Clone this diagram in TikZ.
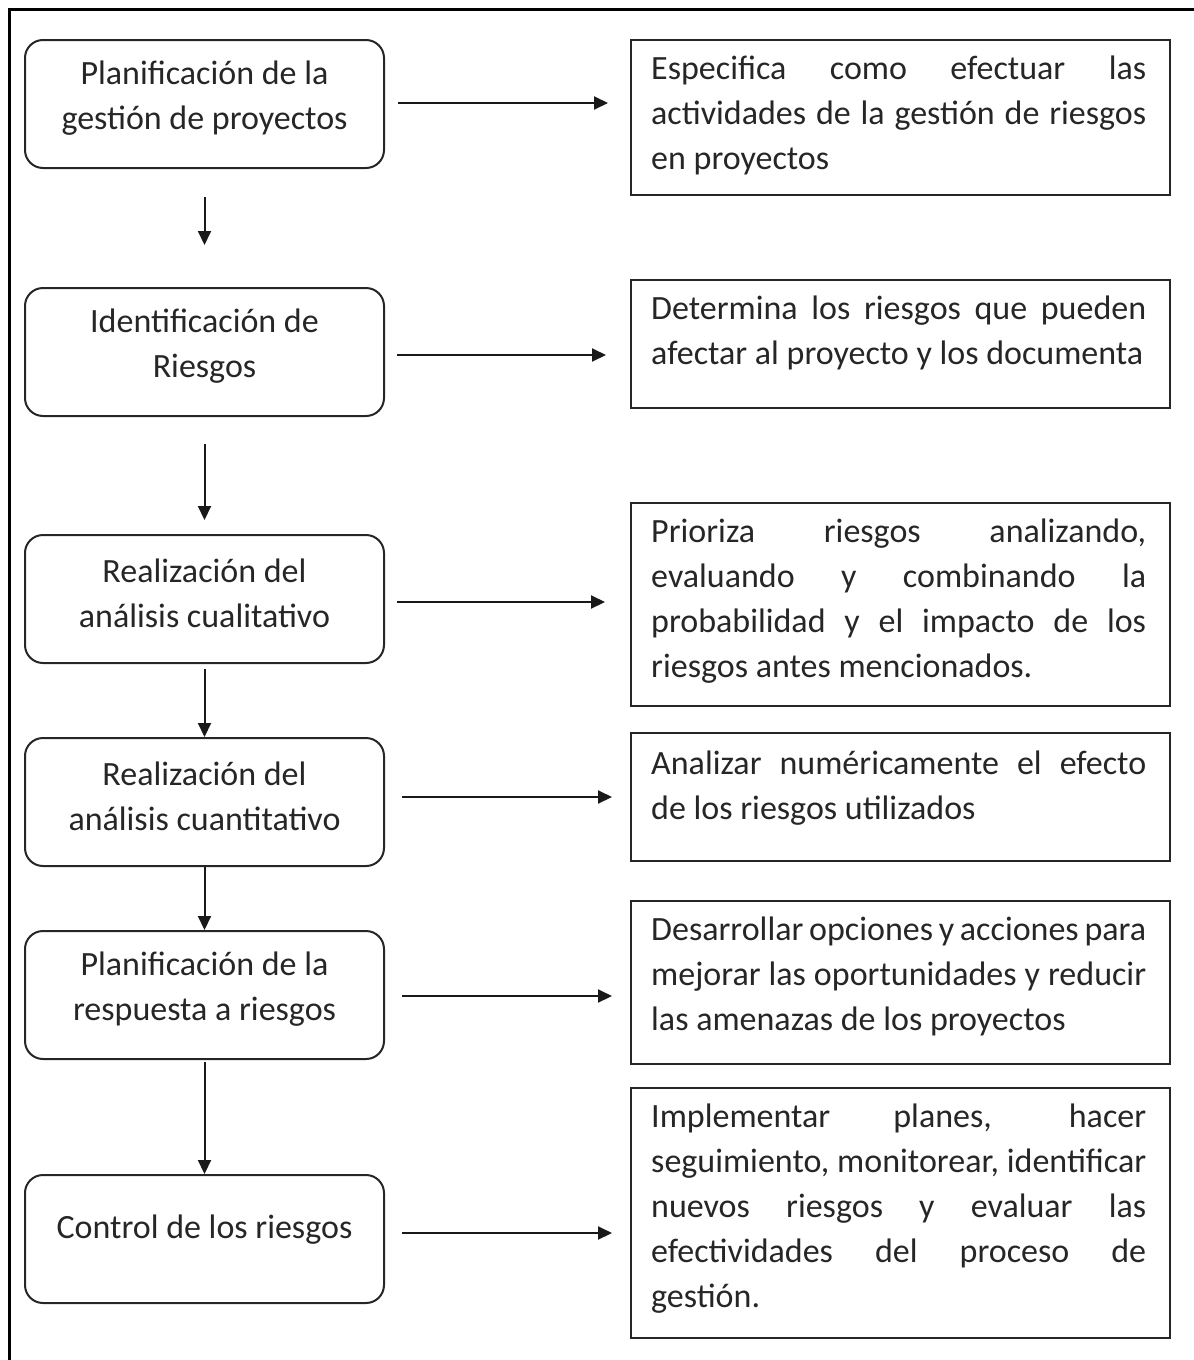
\documentclass[tikz,border=0pt]{standalone}
\usepackage{fontspec}
\setmainfont{Carlito}
\usetikzlibrary{arrows.meta}
\newcommand{\jl}[1]{\makebox[495pt][s]{#1}}
\begin{document}
\begin{tikzpicture}[x=1pt,y=-1pt,
  stage/.style={draw=black!85, line width=2pt, rounded corners=18pt,
    minimum width=359pt, minimum height=128pt, inner sep=0pt, anchor=north west},
  stagetext/.style={align=flush center, font=\fontsize{34}{45}\selectfont,
    text=black!85, inner sep=0pt},
  desc/.style={draw=black!85, line width=2pt, minimum width=539pt,
    inner sep=0pt, anchor=north west},
  desctext/.style={anchor=north west, align=flush left,
    font=\fontsize{34}{45}\selectfont, text=black!85, inner sep=0pt},
  flow/.style={line width=2pt, draw=black!90, -{Triangle[length=14pt,width=13pt]}}
]
\useasboundingbox (0,0) rectangle (1194,1360);
% outer frame (top and left edges)
\draw[line width=3pt] (9,1380) -- (9,9) -- (1210,9);

% process stages
\node[stage] (L1) at (24,39) {};
\node[stage] (L2) at (24,287) {};
\node[stage] (L3) at (24,534) {};
\node[stage] (L4) at (24,737) {};
\node[stage] (L5) at (24,930) {};
\node[stage] (L6) at (24,1174) {};

\node[stagetext] (t1) at ([yshift=6pt]L1.center) {Planificación de la\\gestión de proyectos};
\node[stagetext] (t2) at ([yshift=6pt]L2.center) {Identificación de\\Riesgos};
\node[stagetext] (t3) at ([yshift=6pt]L3.center) {Realización del\\análisis cualitativo};
\node[stagetext] (t4) at ([yshift=6pt]L4.center) {Realización del\\análisis cuantitativo};
\node[stagetext] (t5) at ([yshift=6pt]L5.center) {Planificación de la\\respuesta a riesgos};
\node[stagetext] (t6) at ([yshift=9pt]L6.center) {Control de los riesgos};

% descriptions
\node[desc, minimum height=155pt] (R1) at (630,39) {};
\node[desc, minimum height=128pt] (R2) at (630,279) {};
\node[desc, minimum height=203pt] (R3) at (630,502) {};
\node[desc, minimum height=128pt] (R4) at (630,732) {};
\node[desc, minimum height=163pt] (R5) at (630,900) {};
\node[desc, minimum height=250pt] (R6) at (630,1087) {};

\node[desctext] (d1) at ([xshift=21pt,yshift=-17pt]R1.north west)
  {\jl{Especifica como efectuar las}\\\jl{actividades de la gestión de riesgos}\\en proyectos};
\node[desctext] (d2) at ([xshift=21pt,yshift=-17pt]R2.north west)
  {\jl{Determina los riesgos que pueden}\\afectar al proyecto y los documenta};
\node[desctext] (d3) at ([xshift=21pt,yshift=-17pt]R3.north west)
  {\jl{Prioriza riesgos analizando,}\\\jl{evaluando y combinando la}\\\jl{probabilidad y el impacto de los}\\riesgos antes mencionados.};
\node[desctext] (d4) at ([xshift=21pt,yshift=-19pt]R4.north west)
  {\jl{Analizar numéricamente el efecto}\\de los riesgos utilizados};
\node[desctext] (d5) at ([xshift=21pt,yshift=-17pt]R5.north west)
  {\jl{Desarrollar opciones y acciones para}\\\jl{mejorar las oportunidades y reducir}\\las amenazas de los proyectos};
\node[desctext] (d6) at ([xshift=21pt,yshift=-17pt]R6.north west)
  {\jl{Implementar planes, hacer}\\\jl{seguimiento, monitorear, identificar}\\\jl{nuevos riesgos y evaluar las}\\\jl{efectividades del proceso de}\\gestión.};

% stage to description
\draw[flow, shorten <=13pt, shorten >=22pt] ([yshift=1pt]L1.east) -- ([yshift=1pt]L1.east -| R1.west);
\draw[flow, shorten <=12pt, shorten >=24pt] ([yshift=-3pt]L2.east) -- ([yshift=-3pt]L2.east -| R2.west);
\draw[flow, shorten <=12pt, shorten >=25pt] ([yshift=-3pt]L3.east) -- ([yshift=-3pt]L3.east -| R3.west);
\draw[flow, shorten <=17pt, shorten >=18pt] ([yshift=5pt]L4.east) -- ([yshift=5pt]L4.east -| R4.west);
\draw[flow, shorten <=17pt, shorten >=18pt] ([yshift=-1pt]L5.east) -- ([yshift=-1pt]L5.east -| R5.west);
\draw[flow, shorten <=17pt, shorten >=18pt] ([yshift=6pt]L6.east) -- ([yshift=6pt]L6.east -| R6.west);

% stage sequence
\draw[flow, shorten <=28pt, shorten >=42pt] (L1.south) -- (L2.north);
\draw[flow, shorten <=27pt, shorten >=14pt] (L2.south) -- (L3.north);
\draw[flow, shorten <=5pt] (L3.south) -- (L4.north);
\draw[flow] (L4.south) -- (L5.north);
\draw[flow, shorten <=2pt] (L5.south) -- (L6.north);
\end{tikzpicture}
\end{document}
